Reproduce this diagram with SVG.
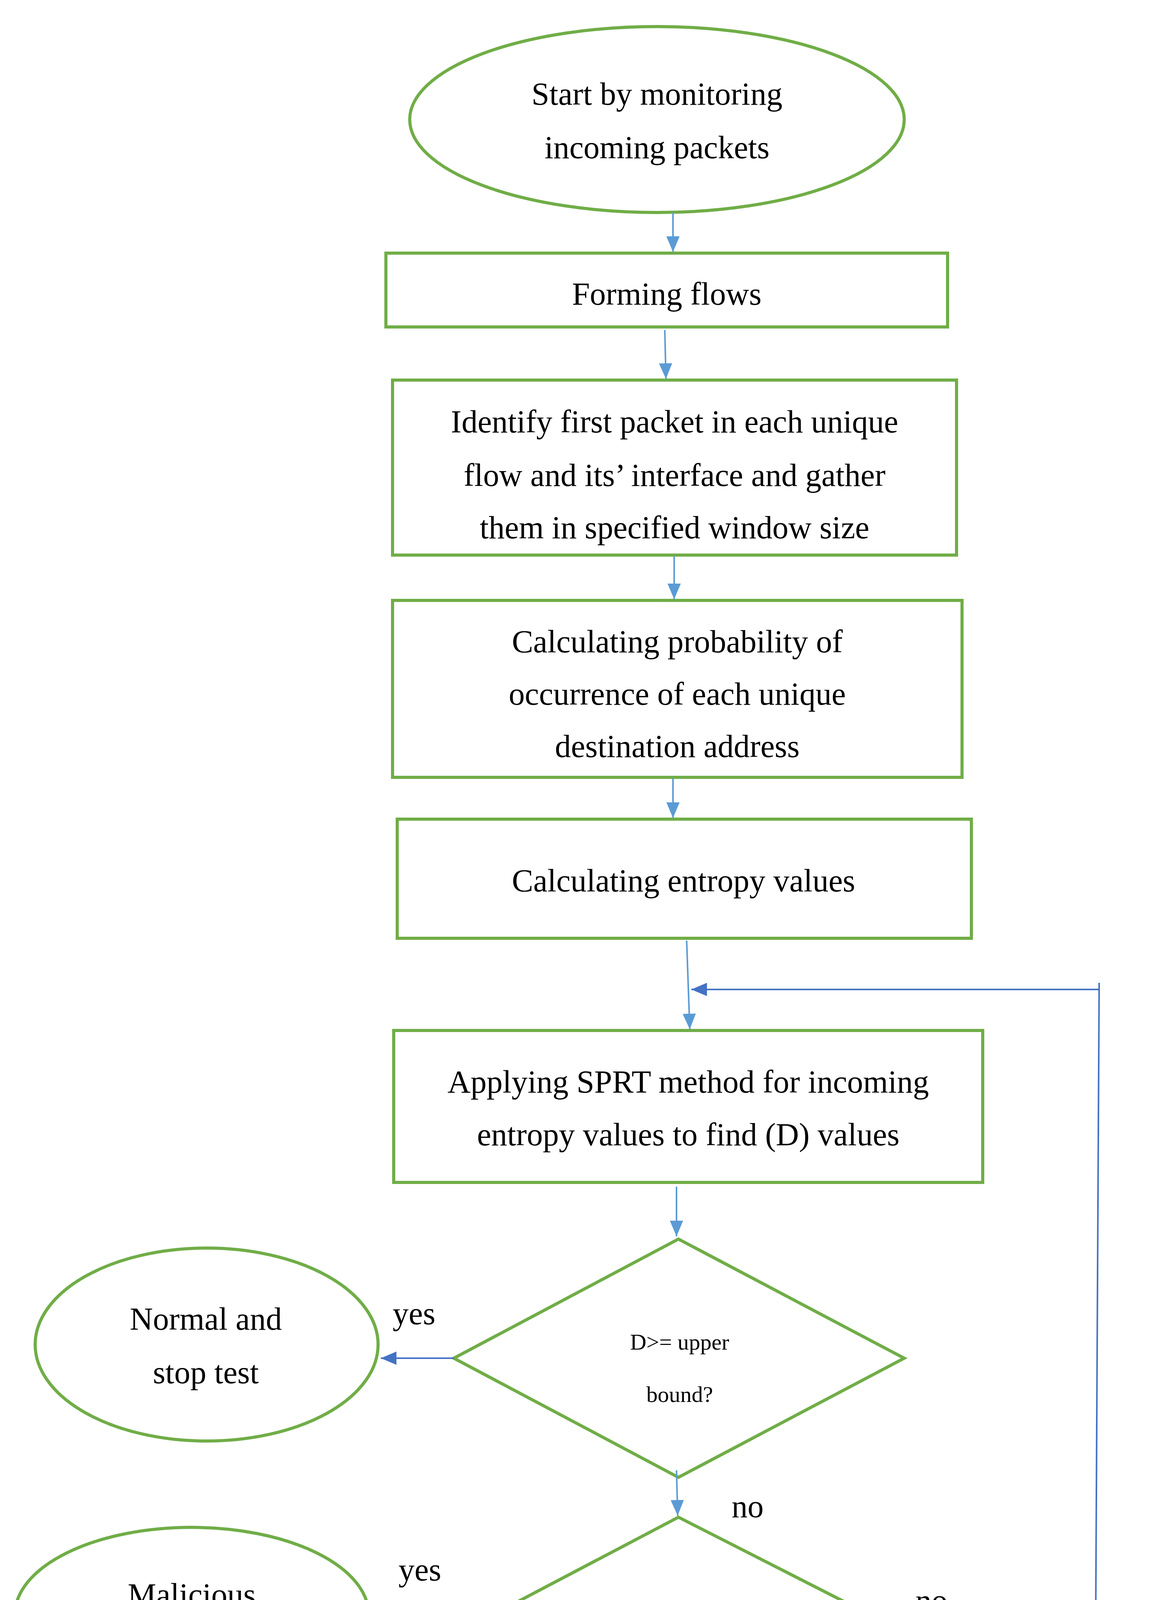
<svg xmlns="http://www.w3.org/2000/svg" width="2975" height="4566" viewBox="0 0 2975 4566">
<style>
.n{fill:#fff;stroke:#70AD47;stroke-width:8}
.t{font-family:"Liberation Serif","DejaVu Serif",serif;font-size:82px;fill:#000;text-anchor:middle}
.s{font-family:"Liberation Serif","DejaVu Serif",serif;font-size:58px;fill:#000;text-anchor:middle}
.c{fill:none;stroke:#5B9BD5;stroke-width:4;marker-end:url(#a)}
.d{fill:none;stroke:#4472C4;stroke-width:4}
</style>
<defs>
<marker id="a" markerWidth="40" markerHeight="34" refX="40" refY="17" orient="auto" markerUnits="userSpaceOnUse" viewBox="0 0 40 34"><path d="M0,0L40,17L0,34z" fill="#5B9BD5"/></marker>
<marker id="b" markerWidth="40" markerHeight="34" refX="40" refY="17" orient="auto" markerUnits="userSpaceOnUse" viewBox="0 0 40 34"><path d="M0,0L40,17L0,34z" fill="#4472C4"/></marker>
</defs>
<rect width="2975" height="4566" fill="#fff"/>
<g id="start"><ellipse class="n" cx="1682" cy="306" rx="633" ry="238"/><text class="t" x="1682" y="268">Start by monitoring</text><text class="t" x="1682" y="405">incoming packets</text></g>
<g id="forming"><rect class="n" x="988" y="648" width="1438" height="189"/><text class="t" x="1707" y="780">Forming flows</text></g>
<g id="identify"><rect class="n" x="1005" y="973" width="1444" height="448"/><text class="t" x="1727" y="1107">Identify first packet in each unique</text><text class="t" x="1727" y="1244">flow and its’ interface and gather</text><text class="t" x="1727" y="1378">them in specified window size</text></g>
<g id="prob"><rect class="n" x="1005" y="1537" width="1458" height="453"/><text class="t" x="1734" y="1670">Calculating probability of</text><text class="t" x="1734" y="1804">occurrence of each unique</text><text class="t" x="1734" y="1938">destination address</text></g>
<g id="entropy"><rect class="n" x="1017" y="2097" width="1470" height="305"/><text class="t" x="1750" y="2282">Calculating entropy values</text></g>
<g id="sprt"><rect class="n" x="1008" y="2638" width="1508" height="389"/><text class="t" x="1762" y="2797">Applying SPRT method for incoming</text><text class="t" x="1762" y="2932">entropy values to find (D) values</text></g>
<g id="d1"><polygon class="n" points="1737,3172 2315,3477 1737,3782 1162,3477"/><text class="s" x="1740" y="3455">D&gt;= upper</text><text class="s" x="1740" y="3589">bound?</text></g>
<g id="d2"><polygon class="n" points="1737,3884 2324,4183 1737,4494 1168,4183"/><text class="s" x="1745" y="4159">D&lt;= lower</text><text class="s" x="1745" y="4293">bound?</text></g>
<g id="normal"><ellipse class="n" cx="529" cy="3442" rx="439" ry="247"/><text class="t" x="527" y="3404">Normal and</text><text class="t" x="527" y="3541">stop test</text></g>
<g id="malicious"><ellipse class="n" cx="491" cy="4134" rx="453" ry="224"/><text class="t" x="491" y="4110">Malicious</text><text class="t" x="491" y="4247">and stop test</text></g>
<g id="connectors">
<path class="c" d="M1723,544L1723,645"/>
<path class="c" d="M1702,845L1705,970"/>
<path class="c" d="M1726,1424L1726,1534"/>
<path class="c" d="M1723,1993L1723,2094"/>
<path class="c" d="M1758,2408L1766,2635"/>
<path class="c" d="M1732,3038L1732,3165"/>
<path class="c" d="M1732,3764L1735,3880"/>
<path class="d" marker-end="url(#b)" d="M1162,3477L975,3477"/>
<path class="d" marker-end="url(#b)" d="M1168,4183L960,4186"/>
<path class="d" marker-end="url(#b)" d="M2324,4183L2805,4189L2814,2533L1770,2533"/>
<path class="d" d="M2814,2516L2814,2545"/>
</g>
<g id="labels">
<text class="t" x="1060" y="3390">yes</text>
<text class="t" x="1914" y="3884">no</text>
<text class="t" x="1075" y="4046">yes</text>
<text class="t" x="2385" y="4125">no</text>
</g>
</svg>
